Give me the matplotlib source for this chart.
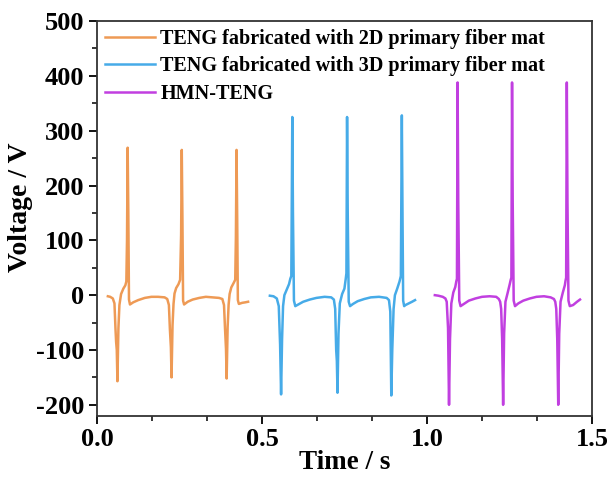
import numpy as np
import matplotlib
matplotlib.use('Agg')
import matplotlib.pyplot as plt
from matplotlib.ticker import MultipleLocator

plt.rcParams['font.family'] = ['Liberation Serif', 'DejaVu Serif']
plt.rcParams['font.weight'] = 'bold'
plt.rcParams['axes.unicode_minus'] = False

# 2D primary fiber mat TENG (time s, voltage V)
t_2d = [0.033, 0.040, 0.048, 0.053, 0.056, 0.058, 0.060, 0.062, 0.065, 0.068, 0.073, 0.080, 0.086, 0.089, 0.091, 0.093, 0.095, 0.097, 0.100, 0.110, 0.125, 0.145, 0.165, 0.185, 0.205, 0.213,
        0.218, 0.221, 0.224, 0.226, 0.229, 0.232, 0.235, 0.240, 0.247, 0.252, 0.255, 0.257, 0.259, 0.261, 0.264, 0.275, 0.290, 0.310, 0.330, 0.350, 0.370, 0.380,
        0.385, 0.388, 0.391, 0.393, 0.396, 0.399, 0.402, 0.407, 0.414, 0.419, 0.421, 0.423, 0.425, 0.427, 0.430, 0.440, 0.450, 0.458]
v_2d = [-2, -3, -6, -15, -60, -85, -100, -157, -60, -18, 2, 12, 18, 25, 100, 269, 150, -8, -17, -13, -9, -5, -3, -3, -4, -7,
        -18, -62, -95, -150, -55, -16, 3, 13, 20, 28, 110, 265, 140, -10, -17, -12, -8, -5, -3, -4, -5, -7,
        -18, -60, -98, -152, -58, -17, 2, 14, 22, 28, 105, 265, 140, -9, -16, -14, -13, -12]

# 3D primary fiber mat TENG
t_3d = [0.524, 0.535, 0.545, 0.551, 0.555, 0.558, 0.561, 0.564, 0.568, 0.575, 0.582, 0.586, 0.589, 0.592, 0.594, 0.597, 0.601, 0.610, 0.625, 0.645, 0.665, 0.690, 0.710, 0.718,
        0.722, 0.725, 0.727, 0.729, 0.732, 0.736, 0.743, 0.750, 0.754, 0.756, 0.758, 0.760, 0.763, 0.767, 0.776, 0.790, 0.810, 0.830, 0.855, 0.878, 0.885,
        0.889, 0.892, 0.895, 0.899, 0.903, 0.910, 0.917, 0.921, 0.924, 0.926, 0.928, 0.931, 0.935, 0.945, 0.955, 0.964]
v_3d = [-1, -2, -6, -20, -90, -181, -80, -20, 0, 10, 20, 30, 35, 325, 150, -10, -20, -17, -12, -8, -5, -3, -4, -8,
        -25, -100, -120, -178, -70, -15, 2, 12, 30, 40, 325, 150, -12, -20, -16, -11, -7, -4, -3, -5, -9,
        -30, -183, -100, -25, 0, 12, 25, 35, 328, 150, -10, -20, -18, -15, -12, -9]

# HMN-TENG
t_hmn = [1.024, 1.035, 1.048, 1.056, 1.060, 1.064, 1.067, 1.070, 1.074, 1.080, 1.086, 1.089, 1.091, 1.093, 1.095, 1.098, 1.102, 1.112, 1.127, 1.147, 1.167, 1.190, 1.210, 1.218,
         1.222, 1.225, 1.228, 1.231, 1.234, 1.238, 1.245, 1.251, 1.254, 1.256, 1.258, 1.260, 1.263, 1.267, 1.277, 1.292, 1.312, 1.332, 1.355, 1.375, 1.385,
         1.389, 1.392, 1.395, 1.398, 1.401, 1.405, 1.412, 1.418, 1.420, 1.422, 1.424, 1.426, 1.429, 1.433, 1.443, 1.455, 1.464]
v_hmn = [0, -1, -3, -6, -12, -60, -200, -80, -15, 5, 15, 25, 30, 388, 170, -10, -20, -16, -10, -6, -3, -2, -3, -7,
         -12, -25, -80, -200, -70, -12, 5, 20, 28, 32, 388, 170, -10, -20, -15, -10, -6, -3, -2, -4, -7,
         -12, -25, -80, -200, -70, -12, 5, 18, 26, 32, 388, 170, -10, -20, -18, -12, -8]

labels = ['TENG fabricated with 2D primary fiber mat',
          'TENG fabricated with 3D primary fiber mat',
          'HMN-TENG']
colors = ['#EE9A55', '#46ABE8', '#C13FE0']

fig = plt.figure(figsize=(6.08, 4.79), dpi=100)
ax = fig.add_axes([0.1595, 0.132, 0.814, 0.824])

ax.plot(t_2d, v_2d, color=colors[0], lw=1.8, label=labels[0])
ax.plot(t_3d, v_3d, color=colors[1], lw=1.8, label=labels[1])
ax.plot(t_hmn, v_hmn, color=colors[2], lw=1.8, label=labels[2])

ax.set_xlim(0, 1.5)
ax.set_ylim(-220, 500)
ax.xaxis.set_major_locator(MultipleLocator(0.5))
ax.xaxis.set_minor_locator(MultipleLocator(0.5 / 3))
ax.yaxis.set_major_locator(MultipleLocator(100))
ax.yaxis.set_minor_locator(MultipleLocator(50))
ax.tick_params(which='major', direction='out', length=6, width=1.3, labelsize=19, pad=3)
ax.tick_params(which='minor', direction='out', length=3.5, width=1.1)
for lab in ax.get_xticklabels() + ax.get_yticklabels():
    lab.set_fontweight('bold')
for s in ax.spines.values():
    s.set_linewidth(1.3)
    s.set_color('#333333')

ax.set_xlabel('Time / s', fontsize=19.5, fontweight='bold', labelpad=-1)
ax.set_ylabel('Voltage / V', fontsize=20, fontweight='bold')
ax.yaxis.set_label_coords(-0.129, 0.528)

ax.legend(loc='upper left', frameon=False, prop={'weight': 'bold', 'size': 14.5},
          handlelength=2.5, handletextpad=0.25, labelspacing=0.36,
          borderaxespad=0, borderpad=0.4, bbox_to_anchor=(0.0, 1.0))

fig.savefig('out.png', dpi=100)
